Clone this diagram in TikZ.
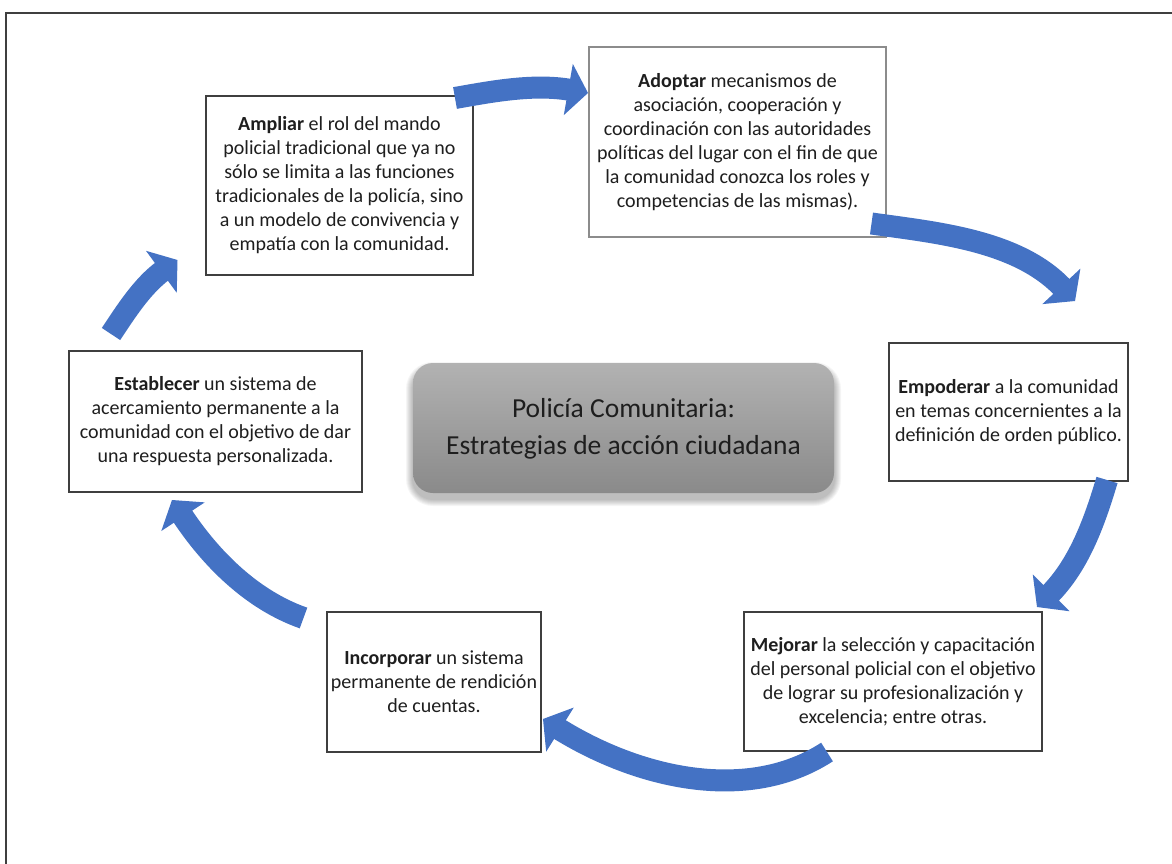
\documentclass[tikz,border=0pt]{standalone}
\usepackage{fontspec}
\setmainfont{Carlito}
\usetikzlibrary{calc}
\definecolor{flowblue}{HTML}{4472C4}
\definecolor{boxline}{HTML}{3F3F3F}
\definecolor{lightline}{HTML}{8C8C8C}
\definecolor{txt}{HTML}{1E1E1E}
\definecolor{gtop}{HTML}{B2B2B2}
\definecolor{gbot}{HTML}{8A8A8A}
\newcommand{\curvedarrow}[6]{%
  \path (#4) ++(#5+180:20) coordinate (am) ++(#5:3) coordinate (am2);
  \draw[flowshaft] (#1) .. controls ($(#1)+(#2:#3)$) and ($(am2)+(#5+180:#6)$) .. (am2);
  \fill[flowhead] (#4) -- ($(am)+(#5+90:26)$) -- ($(am)+(#5-90:26)$) -- cycle;
}
\begin{document}
\begin{tikzpicture}[x=1pt,y=-1pt,
  frame/.style={draw=boxline,line width=1.5pt},
  textbox/.style={draw=boxline,line width=1.5pt,fill=white,align=center,text=txt,
    font=\fontsize{20}{24}\selectfont,inner sep=0pt},
  flowshaft/.style={draw=flowblue,line width=22pt},
  flowhead/.style={fill=flowblue},
  title/.style={align=center,text=txt,font=\fontsize{27.5}{37}\selectfont}]
\useasboundingbox (0,0) rectangle (1172,864);
\fill[white] (0,0) rectangle (1172,864);
\draw[frame] (6,870) -- (6,13) -- (1180,13);

% centre box with soft shadow
\foreach \k in {1,...,7}{
  \fill[black,opacity=0.04,rounded corners=20+\k] (413-\k,363+6-\k) rectangle (834+\k,493+6+\k);
}
\shade[top color=gtop,bottom color=gbot,rounded corners=20] (413,363) rectangle (834,493);
\node[title] (centre) at (623.5,428.5) {Policía Comunitaria:\\Estrategias de acción ciudadana};

\node[textbox,minimum width=267pt,minimum height=179pt] (ampliar) at (339.5,185.5)
  {\textbf{Ampliar} el rol del mando\\policial tradicional que ya no\\sólo se limita a las funciones\\tradicionales de la policía, sino\\a un modelo de convivencia y\\empatía con la comunidad.};
\node[textbox,draw=lightline,line width=1.2pt,minimum width=297pt,minimum height=190pt] (adoptar) at (737.5,142)
  {\textbf{Adoptar} mecanismos de\\asociación, cooperación y\\coordinación con las autoridades\\políticas del lugar con el fin de que\\la comunidad conozca los roles y\\competencias de las mismas).};
\node[textbox,minimum width=239pt,minimum height=138pt] (empoderar) at (1008.5,412)
  {\textbf{Empoderar} a la comunidad\\en temas concernientes a la\\definición de orden público.};
\node[textbox,minimum width=298pt,minimum height=139pt] (mejorar) at (893,681.5)
  {\textbf{Mejorar} la selección y capacitación\\del personal policial con el objetivo\\de lograr su profesionalización y\\excelencia; entre otras.};
\node[textbox,minimum width=214pt,minimum height=140pt] (incorporar) at (434,682)
  {\textbf{Incorporar} un sistema\\permanente de rendición\\de cuentas.};
\node[textbox,minimum width=293pt,minimum height=141pt] (establecer) at (215.5,421.5)
  {\textbf{Establecer} un sistema de\\acercamiento permanente a la\\comunidad con el objetivo de dar\\una respuesta personalizada.};

% arrow end points
\coordinate (a1s) at (455,98);     \coordinate (a1e) at (588,93);
\coordinate (a2s) at (871.5,223.5); \coordinate (a2e) at (1075,301);
\coordinate (a3s) at (1107,480);   \coordinate (a3e) at (1037,607);
\coordinate (a4s) at (827,752);    \coordinate (a4e) at (543,719);
\coordinate (a5s) at (303.5,618);  \coordinate (a5e) at (172,500);
\coordinate (a6s) at (111,334);    \coordinate (a6e) at (177.5,260);

\curvedarrow{a1s}{-10}{38}{a1e}{10}{38}
\curvedarrow{a2s}{8}{66}{a2e}{47}{66}
\curvedarrow{a3s}{106.7}{43}{a3e}{135}{43}
\curvedarrow{a4s}{147}{95}{a4e}{212}{95}
\curvedarrow{a5s}{199.3}{54}{a5e}{236.6}{54}
\curvedarrow{a6s}{-56.3}{27}{a6e}{-36.2}{27}
\end{tikzpicture}
\end{document}
